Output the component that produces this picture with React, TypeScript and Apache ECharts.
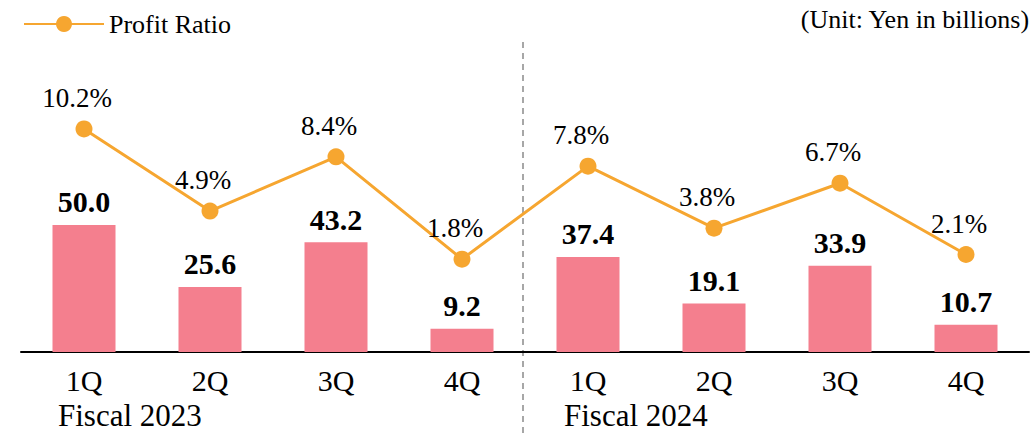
import React, { useEffect, useRef } from "react";
import * as echarts from "echarts";

const categories = ["1Q", "2Q", "3Q", "4Q", "1Q", "2Q", "3Q", "4Q"];
const profitValues = [50.0, 25.6, 43.2, 9.2, 37.4, 19.1, 33.9, 10.7];
const profitRatio = [10.2, 4.9, 8.4, 1.8, 7.8, 3.8, 6.7, 2.1];
const fiscalLabels = ["Fiscal 2023", "Fiscal 2024"];

const FONT = "'Times New Roman', 'Liberation Serif', serif";

export default function App() {
  const ref = useRef<HTMLDivElement>(null);
  useEffect(() => {
    if (!ref.current) return;
    const chart = echarts.init(ref.current, null, { renderer: "svg" });
    chart.setOption({
      animation: false,
      textStyle: { fontFamily: FONT },
      grid: { left: 21, right: 5, top: 40, bottom: 86 },
      legend: {
        data: ["Profit Ratio"],
        left: 18,
        top: 6,
        itemWidth: 80,
        itemHeight: 20,
        itemGap: 10,
        textStyle: { fontFamily: FONT, fontSize: 26, color: "#000" },
      },
      xAxis: {
        type: "category",
        data: categories,
        axisLine: { lineStyle: { color: "#000", width: 2 } },
        axisTick: { show: false },
        axisLabel: { color: "#000", fontSize: 30, fontFamily: FONT, margin: 13 },
      },
      yAxis: [
        { type: "value", min: 0, max: 122.8, show: false, splitLine: { show: false } },
        { type: "value", min: -4.19, max: 15.94, show: false, splitLine: { show: false } },
      ],
      series: [
        {
          type: "bar",
          name: "Profit",
          data: profitValues,
          barWidth: 63,
          itemStyle: { color: "#F47F8E" },
          label: {
            show: true,
            position: "top",
            distance: 8,
            color: "#000",
            fontWeight: "bold",
            fontSize: 30,
            fontFamily: FONT,
            formatter: (p: any) => p.value.toFixed(1),
          },
        },
        {
          type: "line",
          name: "Profit Ratio",
          yAxisIndex: 1,
          data: profitRatio,
          symbol: "circle",
          symbolSize: 17,
          lineStyle: { color: "#F6A630", width: 3 },
          itemStyle: { color: "#F6A630" },
          label: {
            show: true,
            position: "top",
            distance: 9,
            offset: [-7, 0],
            color: "#000",
            fontSize: 27,
            fontFamily: FONT,
            formatter: (p: any) => p.value.toFixed(1) + "%",
          },
        },
      ],
      graphic: [
        {
          type: "line",
          shape: { x1: 523, y1: 42, x2: 523, y2: 438 },
          style: { stroke: "#8a8a8a", lineWidth: 1.5, lineDash: [6, 5] },
        },
        {
          type: "text",
          right: 4,
          top: 6,
          style: { text: "(Unit: Yen in billions)", font: `26px ${FONT}`, fill: "#000" },
        },
        {
          type: "text",
          left: 58,
          top: 400,
          style: { text: fiscalLabels[0], font: `31px ${FONT}`, fill: "#000" },
        },
        {
          type: "text",
          left: 564,
          top: 400,
          style: { text: fiscalLabels[1], font: `31px ${FONT}`, fill: "#000" },
        },
      ],
    });
    return () => chart.dispose();
  }, []);
  return <div ref={ref} style={{ width: 1034, height: 438, position: "absolute", left: 0, top: 0 }} />;
}
